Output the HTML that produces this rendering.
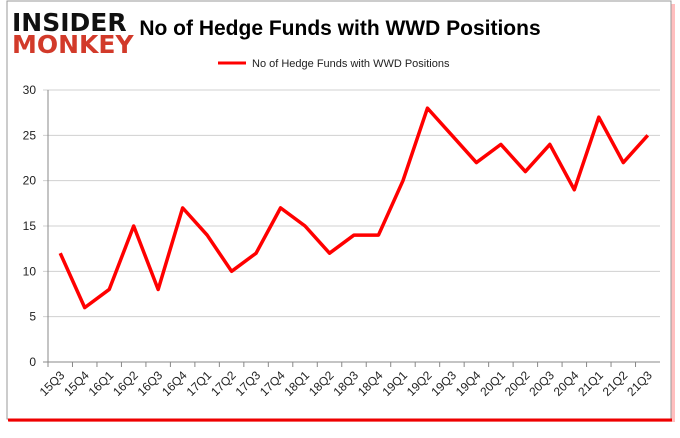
<!DOCTYPE html>
<html><head><meta charset="utf-8"><style>
body{margin:0;background:#fff;width:680px;height:433px;overflow:hidden;font-family:"Liberation Sans",sans-serif}
</style></head><body>
<svg width="680" height="433">
<rect x="9" y="4" width="666" height="418" fill="#f00" opacity="0.25"/>
<rect x="7" y="1" width="664" height="418" fill="#fff" stroke="#999"/>
<line x1="8" y1="420" x2="672" y2="420" stroke="#e00" stroke-width="3"/>
<text x="12" y="31" font-size="25" font-weight="bold" font-family="DejaVu Sans" fill="#111" letter-spacing="0">INSIDER</text>
<text x="12" y="53" font-size="25" font-weight="bold" font-family="DejaVu Sans" fill="#d23a2a">MONKEY</text>
<text x="340" y="35" font-size="21" font-weight="bold" text-anchor="middle" fill="#000">No of Hedge Funds with WWD Positions</text>
<line x1="218" y1="63" x2="246" y2="63" stroke="#f00" stroke-width="3"/>
<text x="252" y="67" font-size="11" fill="#222">No of Hedge Funds with WWD Positions</text>
<g id="grid"></g><g id="axes"></g><g id="series"></g>
</svg>
<script>
const categories=["15Q3","15Q4","16Q1","16Q2","16Q3","16Q4","17Q1","17Q2","17Q3","17Q4","18Q1","18Q2","18Q3","18Q4","19Q1","19Q2","19Q3","19Q4","20Q1","20Q2","20Q3","20Q4","21Q1","21Q2","21Q3"];
const values=[12,6,8,15,8,17,14,10,12,17,15,12,14,14,20,28,25,22,24,21,24,19,27,22,25];
const yTicks=[0,5,10,15,20,25,30];
const NS="http://www.w3.org/2000/svg";
const x0=48,x1=660,y0=362,y1=90,ymax=30;
const bw=(x1-x0)/categories.length;
const X=i=>x0+bw*(i+0.5);
const Y=v=>y0-(v/ymax)*(y0-y1);
function mk(t,a,p){const e=document.createElementNS(NS,t);for(const k in a)e.setAttribute(k,a[k]);p.appendChild(e);return e;}
const grid=document.getElementById('grid'),axes=document.getElementById('axes'),ser=document.getElementById('series');
yTicks.forEach(v=>{
 const l=mk('line',{x1:x0-5,x2:x1,y1:Y(v),y2:Y(v),stroke:v===0?'#888':'#d0d0d0'},grid);
 
 
 const t=mk('text',{x:x0-12,y:Y(v)+4,'font-size':12,'text-anchor':'end',fill:'#222'},axes);
 t.textContent=v;
 
 
});
const ax=mk('line',{x1:x0,x2:x0,y1:y1,y2:y0,stroke:'#888'},axes);


categories.forEach((c,i)=>{
 const tk=mk('line',{x1:x0+bw*i,x2:x0+bw*i,y1:y0,y2:y0+5,stroke:'#888'},axes);
 
 
 const t=mk('text',{x:X(i)+5,y:y0+14,'font-size':12,'text-anchor':'end',fill:'#222',transform:`rotate(-45 ${X(i)+5} ${y0+14})`},axes);
 t.textContent=c;
 
 
});
const p=mk('polyline',{points:values.map((v,i)=>X(i)+','+Y(v)).join(' '),fill:'none',stroke:'#f00','stroke-width':3.5,'stroke-linejoin':'round'},ser);


</script>
</body></html>
